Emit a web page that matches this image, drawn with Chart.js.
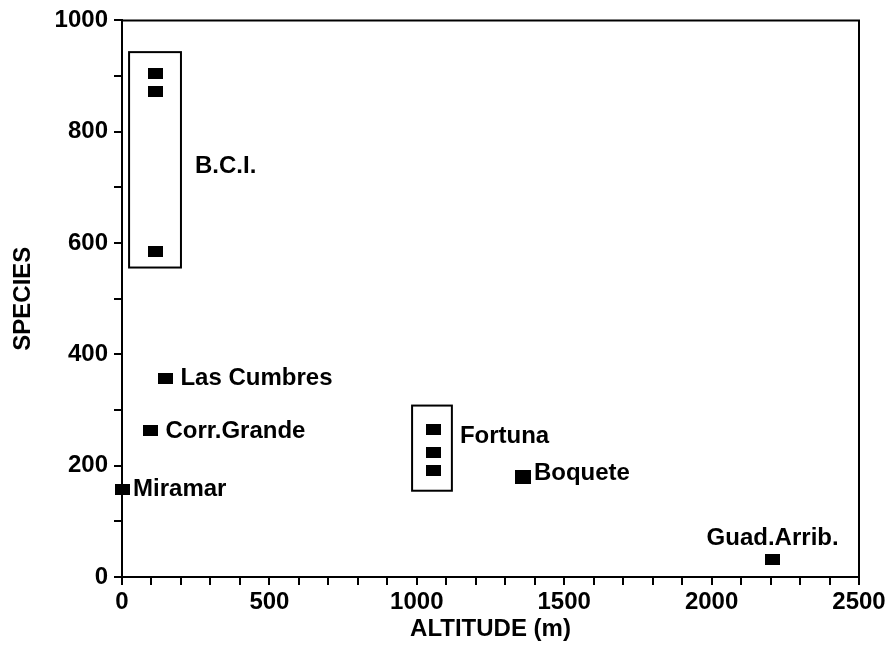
<!DOCTYPE html>
<html>
<head>
<meta charset="utf-8">
<script src="https://cdn.jsdelivr.net/npm/chart.js@4"></script>
<style>
  html, body { margin: 0; padding: 0; background: #fff; }
  #wrap { width: 890px; height: 647px; }
</style>
</head>
<body>
<div id="wrap"><canvas id="speciesChart"></canvas></div>
<script>
// collecting sites, altitude (m) and number of species
const sites = ['B.C.I.', 'B.C.I.', 'B.C.I.', 'Las Cumbres', 'Corr.Grande', 'Miramar',
               'Fortuna', 'Fortuna', 'Fortuna', 'Boquete', 'Guad.Arrib.'];
const altitude = [112, 112, 112, 149, 98, 2, 1058, 1058, 1058, 1360, 2207];
const species = [905, 872, 584, 357, 264, 157, 265, 223, 192, 180, 31];

// sites with several samples are boxed together
const groupNames = ['B.C.I.', 'Fortuna'];
const groupAltMin = [24, 984];
const groupAltMax = [200, 1119];
const groupSpMin = [556, 155];
const groupSpMax = [943, 308];

const xTickLabels = [0, 500, 1000, 1500, 2000, 2500];
const yTickLabels = [0, 200, 400, 600, 800, 1000];

const FONT = { family: '"Liberation Sans", Arial, Helvetica, sans-serif', size: 24, weight: 'bold' };

function square(w, h) {
    const c = document.createElement('canvas');
    c.width = w;
    c.height = h;
    const g = c.getContext('2d');
    g.fillStyle = '#000';
    g.fillRect(0, 0, w, h);
    return c;
}
const smallSq = square(15, 11);
const bigSq = square(16, 14);

// where each label goes, relative to its point (or to its box for groups)
const labelPlace = {
    'B.C.I.':      { dx: 14, dy: 7 },
    'Fortuna':     { dx: 8,  dy: -12 },
    'Las Cumbres': { dx: 7,  dy: 0 },
    'Corr.Grande': { dx: 7,  dy: 1 },
    'Miramar':     { dx: 3,  dy: 0 },
    'Boquete':     { dx: 3,  dy: -3 },
    'Guad.Arrib.': { dx: 0,  dy: -21, above: true }
};

const annotations = {
    id: 'annotations',
    afterDatasetsDraw(chart) {
        const ctx = chart.ctx;
        const xs = chart.scales.x, ys = chart.scales.y;
        const area = chart.chartArea;
        ctx.save();
        ctx.strokeStyle = '#000';
        ctx.lineWidth = 2;
        // top and right frame
        ctx.beginPath();
        ctx.moveTo(area.left, area.top);
        ctx.lineTo(area.right, area.top);
        ctx.lineTo(area.right, area.bottom);
        ctx.stroke();

        ctx.font = `${FONT.weight} ${FONT.size}px ${FONT.family}`;
        ctx.fillStyle = '#000';
        ctx.textBaseline = 'middle';

        groupNames.forEach((name, i) => {
            const x0 = xs.getPixelForValue(groupAltMin[i]);
            const x1 = xs.getPixelForValue(groupAltMax[i]);
            const y0 = ys.getPixelForValue(groupSpMax[i]);
            const y1 = ys.getPixelForValue(groupSpMin[i]);
            ctx.strokeRect(x0, y0, x1 - x0, y1 - y0);
            const p = labelPlace[name];
            ctx.textAlign = 'left';
            ctx.fillText(name, x1 + p.dx, (y0 + y1) / 2 + p.dy);
        });

        const meta = chart.getDatasetMeta(0);
        sites.forEach((name, i) => {
            if (groupNames.includes(name)) return;
            const pt = meta.data[i];
            const p = labelPlace[name];
            if (p.above) {
                ctx.textAlign = 'center';
                ctx.fillText(name, pt.x + p.dx, pt.y + p.dy);
            } else {
                ctx.textAlign = 'left';
                const half = (i === 9 ? bigSq.width : smallSq.width) / 2;
                ctx.fillText(name, pt.x + half + p.dx, pt.y + p.dy);
            }
        });
        ctx.restore();
    }
};

const ctx = document.getElementById('speciesChart').getContext('2d');
new Chart(ctx, {
    type: 'scatter',
    data: {
        datasets: [{
            data: altitude.map((a, i) => ({ x: a, y: species[i] })),
            pointStyle: sites.map((s, i) => i === 9 ? bigSq : smallSq),
            pointRadius: 7,
            clip: false
        }]
    },
    options: {
        responsive: true,
        maintainAspectRatio: false,
        animation: false,
        events: [],
        layout: { padding: { top: 16, right: 31, left: 0, bottom: 0 } },
        plugins: { legend: { display: false }, tooltip: { enabled: false } },
        scales: {
            x: {
                type: 'linear',
                min: 0,
                max: 2500,
                afterFit(scale) { scale.height = 70; },
                border: { display: true, color: '#000', width: 2 },
                grid: { drawOnChartArea: false, drawTicks: true, tickLength: 8, color: '#000', lineWidth: 2 },
                ticks: {
                    stepSize: 100,
                    autoSkip: false,
                    maxRotation: 0,
                    padding: 3,
                    color: '#000',
                    font: FONT,
                    callback: v => xTickLabels.includes(v) ? String(v) : ''
                },
                title: { display: true, text: 'ALTITUDE (m)', color: '#000', font: FONT, padding: { top: 0, bottom: 3 } }
            },
            y: {
                type: 'linear',
                min: 0,
                max: 1000,
                afterFit(scale) { scale.width = 122; },
                border: { display: true, color: '#000', width: 2 },
                grid: { drawOnChartArea: false, drawTicks: true, tickLength: 8, color: '#000', lineWidth: 2 },
                ticks: {
                    stepSize: 100,
                    autoSkip: false,
                    padding: 6,
                    color: '#000',
                    font: FONT,
                    callback: v => yTickLabels.includes(v) ? String(v) : ''
                },
                title: { display: true, text: 'SPECIES', color: '#000', font: FONT, padding: { top: 9, bottom: 0 } }
            }
        }
    },
    plugins: [annotations]
});
</script>
</body>
</html>
